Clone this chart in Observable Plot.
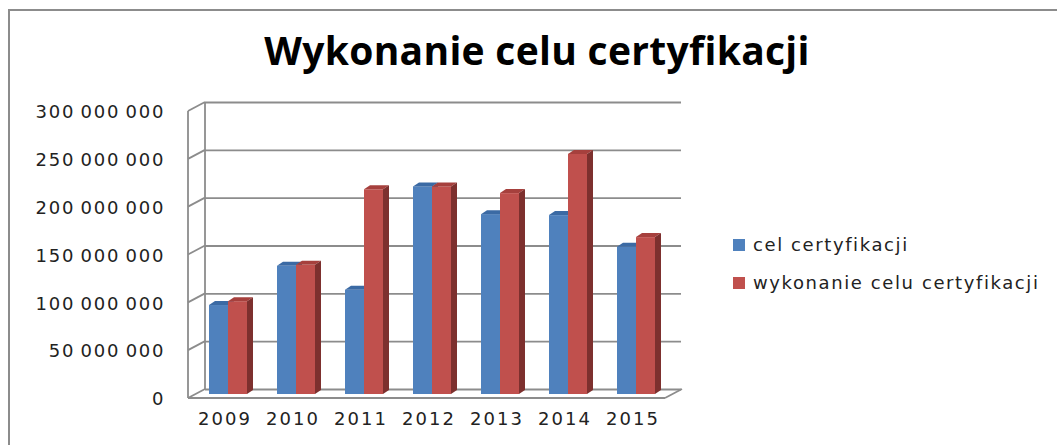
<!DOCTYPE html>
<html><head><meta charset="utf-8">
<script src="https://cdn.jsdelivr.net/npm/d3@7"></script>
<script src="https://cdn.jsdelivr.net/npm/@observablehq/plot@0.6"></script>
<style>
body{margin:0;background:#fff;}
#wrap{position:relative;width:1057px;height:445px;overflow:hidden;background:#fff;font-family:"DejaVu Sans",sans-serif;}
#border{position:absolute;left:8px;top:9px;width:1100px;height:500px;border-top:2px solid #8c8c8c;border-left:2px solid #8c8c8c;}
#title{position:absolute;left:0;top:30px;width:1074px;text-align:center;font-family:"Open Sans",sans-serif;font-weight:700;font-size:39px;line-height:39px;letter-spacing:0.3px;color:#000;white-space:nowrap;}
#chart{position:absolute;left:0;top:0;}
.leg{position:absolute;left:733px;height:20px;line-height:20px;font-size:18px;letter-spacing:1.6px;color:#222;white-space:nowrap;}
.leg span.sw{position:absolute;left:0;top:4px;width:12px;height:12px;}
.leg span.lb{position:absolute;left:20px;top:0;}
</style></head>
<body>
<div id="wrap">
  <div id="border"></div>
  <div id="chart"></div>
  <div id="title">Wykonanie celu certyfikacji</div>
  <div id="legend"></div>
</div>
<script>
const years = ["2009", "2010", "2011", "2012", "2013", "2014", "2015"];
const celValues = [93e6, 134e6, 109e6, 217e6, 188e6, 187e6, 154e6];
const wykonanieValues = [97e6, 135e6, 214e6, 217e6, 210e6, 251e6, 164e6];
const seriesNames = ["cel certyfikacji", "wykonanie celu certyfikacji"];
const seriesColors = ["#4f81bd", "#c0504d"];
const topColors = ["#3b6aa4", "#a6403d"];
const sideColors = ["#385d8a", "#7d302e"];
const yTicks = [0, 50e6, 100e6, 150e6, 200e6, 250e6, 300e6];

const celData = years.map((year, i) => ({year, value: celValues[i], series: seriesNames[0]}));
const wykData = years.map((year, i) => ({year, value: wykonanieValues[i], series: seriesNames[1]}));
const fmt = d => d3.format(",")(d).replace(/,/g, "\u2009");

const plot = Plot.plot({
  width: 700, height: 445,
  marginLeft: 194, marginRight: 30, marginTop: 107, marginBottom: 51,
  x: {type: "band", domain: years, paddingInner: 0.44, paddingOuter: 0.22, axis: null},
  y: {domain: [0, 300e6], axis: null},
  style: {fontFamily: "DejaVu Sans", fontSize: "18px", background: "transparent", overflow: "visible"},
  marks: [
    Plot.ruleY(yTicks, {y: d => d, dx: 11, dy: -5, stroke: "#8c8c8c", strokeWidth: 1.8}),
    Plot.barY(celData, {x: "year", y: "value", fill: seriesColors[0], insetRight: 19}),
    Plot.barY(wykData, {x: "year", y: "value", fill: seriesColors[1], insetLeft: 19}),
    Plot.text(yTicks, {y: d => d, text: fmt, frameAnchor: "left", textAnchor: "end", dx: -31, dy: 5, fill: "#222"}),
    Plot.text(years, {x: d => d, text: d => d, frameAnchor: "bottom", dy: 30, dx: -4.5, fill: "#222"})
  ]
});

const svg = d3.select(plot);

// stretch tick labels to the reference's wide lettering
svg.selectAll('g[aria-label="text"] text').each(function() {
  const s = this.textContent;
  const digits = (s.match(/\d/g) || []).length;
  const spaces = s.length - digits;
  if (digits > 1) {
    this.setAttribute("textLength", 13.4 * digits + 4.5 * spaces - 1.5);
    this.setAttribute("lengthAdjust", "spacing");
  }
});

// 3D top and side faces built from each bar's own geometry
const D = 6, E = 4;
svg.selectAll('g[aria-label="bar"]').each(function(_, gi) {
  d3.select(this).selectAll("rect").each(function() {
    const r = d3.select(this);
    const x = +r.attr("x"), y = +r.attr("y"), w = +r.attr("width"), h = +r.attr("height");
    const ns = "http://www.w3.org/2000/svg";
    const side = document.createElementNS(ns, "polygon");
    side.setAttribute("points", `${x+w},${y} ${x+w+D},${y-E} ${x+w+D},${y+h-E} ${x+w},${y+h}`);
    side.setAttribute("fill", sideColors[gi]);
    const top = document.createElementNS(ns, "polygon");
    top.setAttribute("points", `${x},${y} ${x+w},${y} ${x+w+D},${y-E} ${x+D},${y-E}`);
    top.setAttribute("fill", topColors[gi]);
    this.parentNode.insertBefore(side, this.nextSibling);
    this.parentNode.insertBefore(top, this.nextSibling);
  });
});

// 3D frame decoration using the plot's y scale
const ys = plot.scale("y");
const yS = d3.scaleLinear(ys.domain, ys.range);
const deco = svg.insert("g", ":first-child").attr("stroke", "#8c8c8c").attr("stroke-width", 1.8).attr("fill", "none");
const fx = 188, bx = 205, fOff = 4, bOff = -5;
const seg = (x1, y1, x2, y2) => deco.append("line").attr("x1", x1).attr("y1", y1).attr("x2", x2).attr("y2", y2);
seg(fx, yS(300e6) + fOff, fx, yS(0) + fOff);
seg(bx, yS(300e6) + bOff, bx, yS(0) + bOff);
yTicks.forEach(t => seg(fx, yS(t) + fOff, bx, yS(t) + bOff));
seg(fx, yS(0) + fOff, 665, yS(0) + fOff);
seg(665, yS(0) + fOff, 682, yS(0) + bOff);

document.getElementById("chart").appendChild(plot);

const legend = document.getElementById("legend");
const legTops = [235, 273];
seriesNames.forEach((name, i) => {
  const item = document.createElement("div");
  item.className = "leg";
  item.style.top = legTops[i] + "px";
  const sw = document.createElement("span");
  sw.className = "sw";
  sw.style.background = seriesColors[i];
  const lb = document.createElement("span");
  lb.className = "lb";
  lb.textContent = name;
  item.appendChild(sw);
  item.appendChild(lb);
  legend.appendChild(item);
});
</script>
</body></html>
